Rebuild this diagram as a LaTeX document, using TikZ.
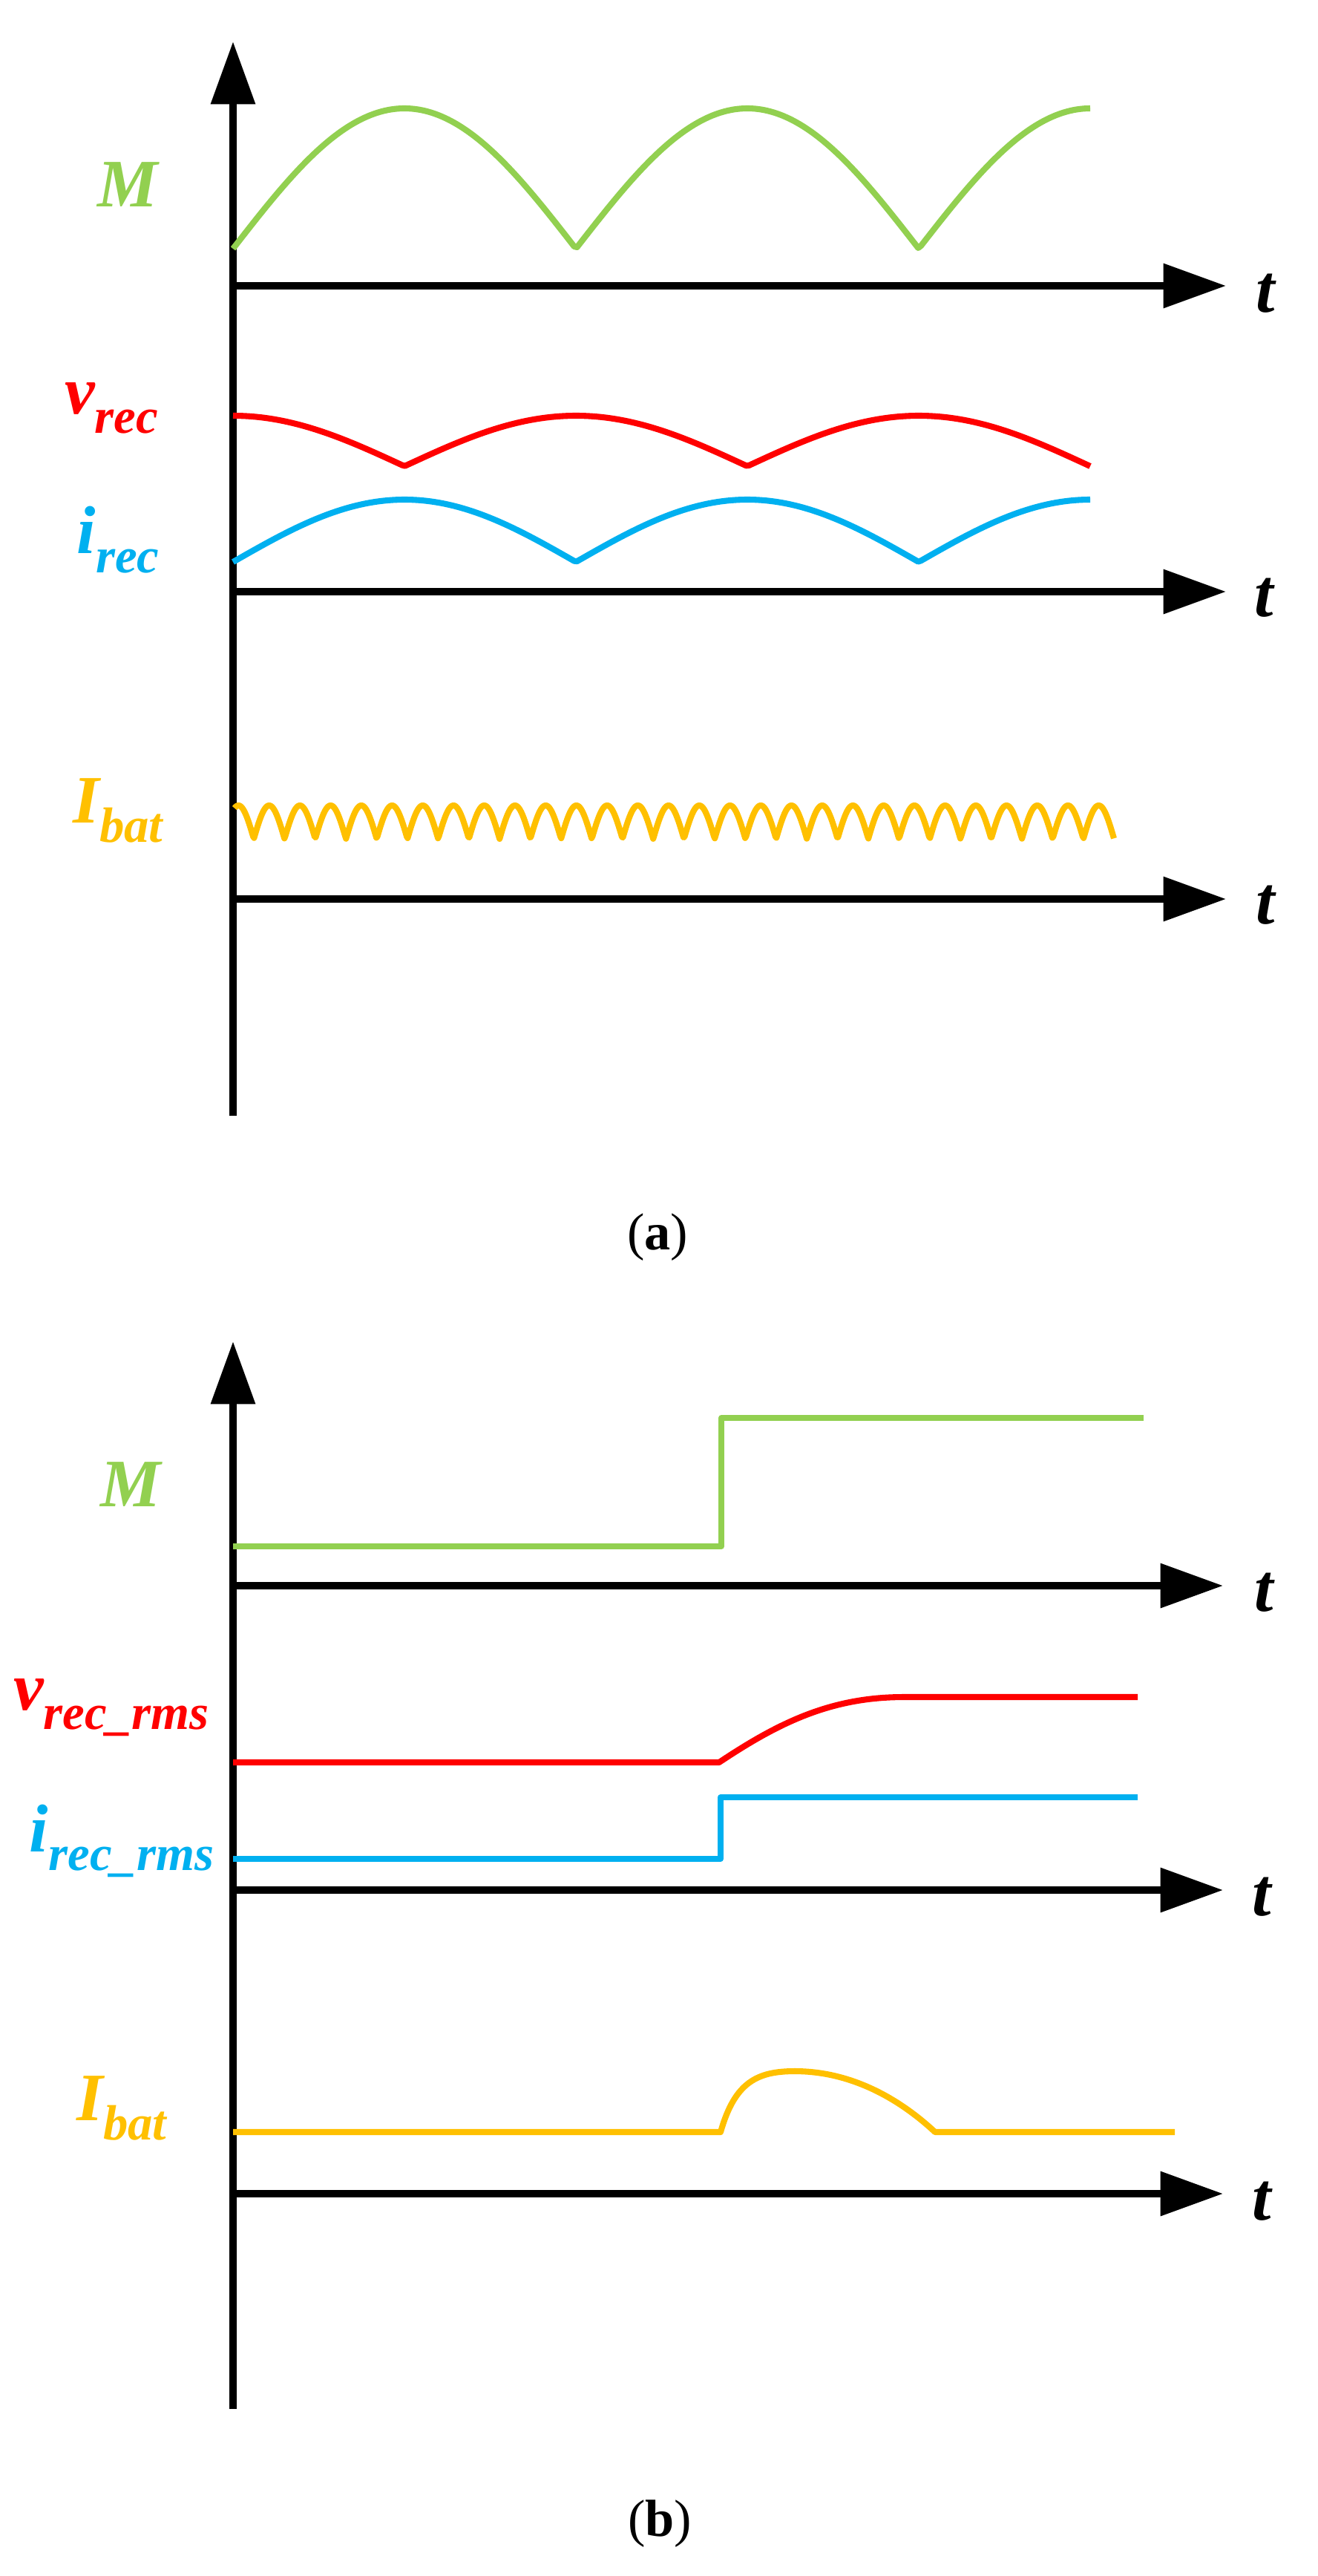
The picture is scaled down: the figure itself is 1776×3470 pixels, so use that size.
\documentclass[tikz,border=0pt]{standalone}
\usepackage{fontspec}
\setmainfont{Liberation Serif}
\usetikzlibrary{arrows.meta}
\definecolor{cg}{RGB}{146,208,80}
\definecolor{cr}{RGB}{255,0,0}
\definecolor{cb}{RGB}{0,176,240}
\definecolor{cy}{RGB}{255,192,0}
\newcommand{\lab}[2]{\fontsize{26}{28}\selectfont\bfseries\itshape #1\raisebox{-0.28em}{\fontsize{19}{20}\selectfont #2}}
\begin{document}
\begin{tikzpicture}[x=0.01cm,y=-0.01cm,
  ax/.style={line width=2.8pt,-{Triangle[length=24pt,width=16.5pt]}},
  sig/.style={line width=2.3pt,line join=round},
  lbl/.style={inner sep=0pt,anchor=center},
  tl/.style={inner sep=0pt,font=\fontsize{26}{28}\selectfont\bfseries\itshape}]
\useasboundingbox (0,0) rectangle (1776,3470);
% ---------- (a)
\coordinate (a0) at (314,1503);
\coordinate (atop) at (314,56);
\draw[ax] (a0) -- (atop);
\foreach \n/\y in {1/385,2/797,3/1211}{
  \coordinate (as\n) at (314,\y);
  \coordinate (ae\n) at (1652,\y);
  \draw[ax] (as\n) -- (ae\n);
}
\node[tl] (at1) at (1705,395) {t};
\node[tl] (at2) at (1703,805) {t};
\node[tl] (at3) at (1705,1219) {t};
\draw[sig,cg] plot[domain=314:1469,samples=300] (\x,{335-189*abs(sin((\x-314)/462*180))});
\draw[sig,cr] plot[domain=314:1469,samples=300] (\x,{628-68*abs(cos((\x-314)/462*180))});
\draw[sig,cb] plot[domain=314:1469,samples=300] (\x,{757-84*abs(sin((\x-314)/462*180))});
\draw[sig,cy] plot[domain=316:1501,samples=900] (\x,{1130-45*abs(sin((\x-342)/41.4*180))});
\node[lbl,text=cg] (aM) at (172,261) {\lab{M}{}};
\node[lbl,text=cr] (av) at (150,550) {\lab{v}{rec}};
\node[lbl,text=cb] (ai) at (159,727) {\lab{i}{rec}};
\node[lbl,text=cy] (aI) at (159,1092) {\lab{I}{bat}};
\node[lbl] (capa) at (886,1667) {\fontsize{20}{22}\selectfont(\textbf{a})};
% ---------- (b)
\coordinate (b0) at (314,3245);
\coordinate (btop) at (314,1807);
\draw[ax] (b0) -- (btop);
\foreach \n/\y in {1/2136,2/2546,3/2955}{
  \coordinate (bs\n) at (314,\y);
  \coordinate (be\n) at (1648,\y);
  \draw[ax] (bs\n) -- (be\n);
}
\node[tl] (bt1) at (1703,2145) {t};
\node[tl] (bt2) at (1700,2555) {t};
\node[tl] (bt3) at (1700,2965) {t};
\draw[sig,cg] (314,2083) -- (972,2083) -- (972,1910) -- (1541,1910);
\draw[sig,cr] (314,2374) -- (969,2374) .. controls (1050,2320) and (1120,2286) .. (1218,2286) -- (1533,2286);
\draw[sig,cb] (314,2504) -- (971,2504) -- (971,2421) -- (1533,2421);
\draw[sig,cy] (314,2872) -- (971,2872) .. controls (990,2805) and (1020,2790) .. (1071,2790) .. controls (1150,2790) and (1215,2830) .. (1260,2872) -- (1583,2872);
\node[lbl,text=cg] (bM) at (176,2012) {\lab{M}{}};
\node[lbl,text=cr] (bv) at (150,2300) {\lab{v}{rec\_rms}};
\node[lbl,text=cb] (bi) at (164,2480) {\lab{i}{rec\_rms}};
\node[lbl,text=cy] (bI) at (164,2840) {\lab{I}{bat}};
\node[lbl] (capb) at (889,3400) {\fontsize{20}{22}\selectfont(\textbf{b})};
\end{tikzpicture}
\end{document}
